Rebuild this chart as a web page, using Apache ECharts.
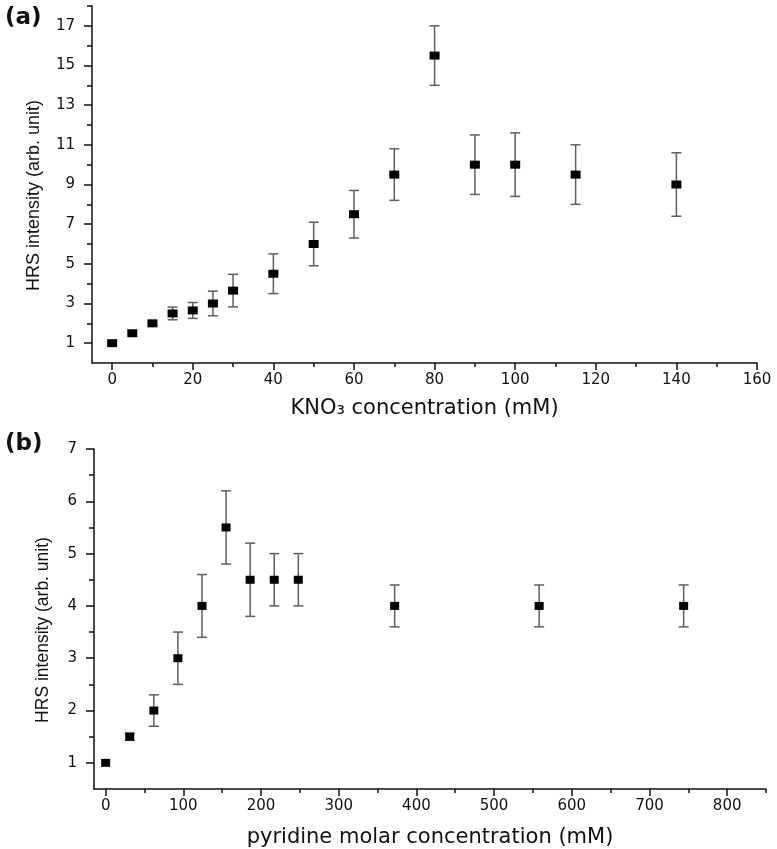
<!DOCTYPE html>
<html><head><meta charset="utf-8">
<script src="https://cdn.jsdelivr.net/npm/echarts@6/dist/echarts.min.js"></script>
<style>html,body{margin:0;padding:0;background:#fff}#c{width:777px;height:849px}</style>
</head><body><div id="c"></div>
<script>
// Panel (a): KNO3
const kno3X = [0, 5, 10, 15, 20, 25, 30, 40, 50, 60, 70, 80, 90, 100, 115, 140];
const kno3Y = [1.0, 1.5, 2.0, 2.5, 2.65, 3.0, 3.65, 4.5, 6.0, 7.5, 9.5, 15.5, 10.0, 10.0, 9.5, 9.0];
const kno3Err = [0, 0, 0, 0.32, 0.4, 0.62, 0.82, 1.0, 1.1, 1.2, 1.3, 1.5, 1.5, 1.6, 1.5, 1.6];
const kno3XTicks = [0, 20, 40, 60, 80, 100, 120, 140, 160];
const kno3XMinor = [10, 30, 50, 70, 90, 110, 130, 150];
const kno3YTicks = [1, 3, 5, 7, 9, 11, 13, 15, 17];
const kno3YMinor = [2, 4, 6, 8, 10, 12, 14, 16, 18];

// Panel (b): pyridine
const pyrX = [0, 31, 62, 93, 124, 155, 186, 217, 248, 372, 558, 744];
const pyrY = [1.0, 1.5, 2.0, 3.0, 4.0, 5.5, 4.5, 4.5, 4.5, 4.0, 4.0, 4.0];
const pyrErr = [0, 0.07, 0.3, 0.5, 0.6, 0.7, 0.7, 0.5, 0.5, 0.4, 0.4, 0.4];
const pyrXTicks = [0, 100, 200, 300, 400, 500, 600, 700, 800];
const pyrXMinor = [50, 150, 250, 350, 450, 550, 650, 750, 850];
const pyrYTicks = [1, 2, 3, 4, 5, 6, 7];
const pyrYMinor = [1.5, 2.5, 3.5, 4.5, 5.5, 6.5];

const INK = '#111';
const tickFont = {fontFamily: 'DejaVu Sans', fontSize: 15, color: INK};

function mainX(grid, min, max, ticks, name, gap) {
  return {
    type: 'value', gridIndex: grid, min: min, max: max, position: 'bottom',
    axisLine: {show: true, onZero: false, lineStyle: {color: INK, width: 1.5}},
    axisTick: {show: true, customValues: ticks, length: 7, lineStyle: {color: INK, width: 1.5}},
    axisLabel: Object.assign({customValues: ticks, margin: 10}, tickFont),
    splitLine: {show: false},
    name: name, nameLocation: 'middle', nameGap: gap,
    nameTextStyle: {fontFamily: 'DejaVu Sans', fontSize: 21, color: INK}
  };
}
function minorX(grid, min, max, ticks) {
  return {
    type: 'value', gridIndex: grid, min: min, max: max, position: 'bottom',
    axisLine: {show: false, onZero: false},
    axisTick: {show: true, customValues: ticks, length: 4, lineStyle: {color: INK, width: 1.5}},
    axisLabel: {show: false}, splitLine: {show: false}
  };
}
function mainY(grid, min, max, ticks, gap, fs) {
  return {
    type: 'value', gridIndex: grid, min: min, max: max, position: 'left',
    axisLine: {show: true, onZero: false, lineStyle: {color: INK, width: 1.5}},
    axisTick: {show: true, customValues: ticks, length: 8, lineStyle: {color: INK, width: 1.5}},
    axisLabel: Object.assign({customValues: ticks, margin: 17}, tickFont),
    splitLine: {show: false},
    name: 'HRS intensity (arb. unit)', nameLocation: 'middle', nameGap: gap,
    nameTextStyle: {fontFamily: 'Liberation Sans', fontSize: fs, color: INK, padding: [0, 22, 0, 0]}
  };
}
function minorY(grid, min, max, ticks) {
  return {
    type: 'value', gridIndex: grid, min: min, max: max, position: 'left',
    axisLine: {show: false, onZero: false},
    axisTick: {show: true, customValues: ticks, length: 5, lineStyle: {color: INK, width: 1.5}},
    axisLabel: {show: false}, splitLine: {show: false}
  };
}
function errorSeries(xi, yi, xs, ys, es) {
  return {
    type: 'custom', xAxisIndex: xi, yAxisIndex: yi, silent: true, z: 2, clip: false,
    data: xs.map((x, i) => [x, ys[i], es[i]]),
    encode: {x: 0, y: 1},
    renderItem: function (params, api) {
      const x = api.value(0), y = api.value(1), e = api.value(2);
      if (!e) return null;
      const t = api.coord([x, y + e]), b = api.coord([x, y - e]);
      const hw = 5, st = {stroke: '#5e5e5e', lineWidth: 1.5};
      return {type: 'group', children: [
        {type: 'line', shape: {x1: t[0], y1: t[1], x2: b[0], y2: b[1]}, style: st},
        {type: 'line', shape: {x1: t[0] - hw, y1: t[1], x2: t[0] + hw, y2: t[1]}, style: st},
        {type: 'line', shape: {x1: b[0] - hw, y1: b[1], x2: b[0] + hw, y2: b[1]}, style: st}
      ]};
    }
  };
}
function pointSeries(xi, yi, xs, ys, size) {
  return {
    type: 'scatter', xAxisIndex: xi, yAxisIndex: yi, z: 3,
    symbol: 'rect', symbolSize: size,
    itemStyle: {color: '#000', opacity: 1},
    data: xs.map((x, i) => [x, ys[i]])
  };
}

const chart = echarts.init(document.getElementById('c'), null, {renderer: 'canvas'});
chart.setOption({
  animation: false,
  backgroundColor: '#fff',
  title: [
    {text: '(a)', left: 5, top: 7, padding: 0, textStyle: {fontFamily: 'DejaVu Sans', fontWeight: 'bold', fontSize: 23, color: '#111'}},
    {text: '(b)', left: 5, top: 433, padding: 0, textStyle: {fontFamily: 'DejaVu Sans', fontWeight: 'bold', fontSize: 23, color: '#111'}}
  ],
  grid: [
    {left: 92, right: 20, top: 6, height: 357},
    {left: 94, right: 11, top: 449, height: 340}
  ],
  xAxis: [
    mainX(0, -5, 160, kno3XTicks, 'KNO\u2083 concentration (mM)', 35),
    minorX(0, -5, 160, kno3XMinor),
    mainX(1, -15, 850, pyrXTicks, 'pyridine molar concentration (mM)', 38),
    minorX(1, -15, 850, pyrXMinor)
  ],
  yAxis: [
    mainY(0, 0, 18, kno3YTicks, 49, 18),
    minorY(0, 0, 18, kno3YMinor),
    mainY(1, 0.5, 7, pyrYTicks, 42, 17.5),
    minorY(1, 0.5, 7, pyrYMinor)
  ],
  series: [
    errorSeries(0, 0, kno3X, kno3Y, kno3Err),
    pointSeries(0, 0, kno3X, kno3Y, [10, 8]),
    errorSeries(2, 2, pyrX, pyrY, pyrErr),
    pointSeries(2, 2, pyrX, pyrY, [9, 8])
  ]
});
</script>
</body></html>
